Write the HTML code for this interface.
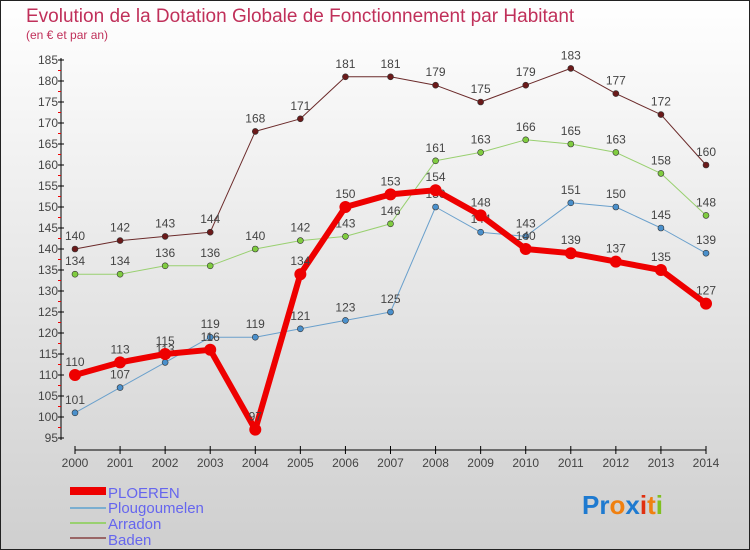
<!DOCTYPE html>
<html><head><meta charset="utf-8"><style>
body{margin:0}
svg{display:block;font-family:"Liberation Sans",sans-serif}
</style></head><body>
<svg id="c" width="750" height="550">
<defs><linearGradient id="bg" x1="0" y1="0" x2="0" y2="1"><stop offset="0" stop-color="#ffffff"/><stop offset="1" stop-color="#cfcfcf"/></linearGradient></defs>
<rect x="0.5" y="0.5" width="749" height="549" fill="url(#bg)" stroke="#222"/>
<text x="26" y="22" font-size="19" fill="#c0305a">Evolution de la Dotation Globale de Fonctionnement par Habitant</text>
<text x="26" y="39" font-size="12" fill="#c0305a">(en € et par an)</text>
<g id="axes"></g><g id="series"></g>
<g>
<rect x="70" y="487" width="36" height="8" fill="#e00"/>
<rect x="70" y="507" width="36" height="2" fill="#7aaed0"/>
<rect x="70" y="522" width="36" height="2" fill="#99d070"/>
<rect x="70" y="537" width="36" height="2" fill="#996666"/>
<text x="108" y="498" font-size="15" fill="#6666ee">PLOEREN</text>
<text x="108" y="513" font-size="15" fill="#6666ee">Plougoumelen</text>
<text x="108" y="529" font-size="15" fill="#6666ee">Arradon</text>
<text x="108" y="545" font-size="15" fill="#6666ee">Baden</text>
</g>
<g font-size="26" font-weight="bold">
<text x="582" y="514"><tspan fill="#1e7ad0">Pr</tspan><tspan fill="#f08010">o</tspan><tspan fill="#1e7ad0">x</tspan><tspan fill="#e03010">i</tspan><tspan fill="#f08010">t</tspan><tspan fill="#80c020">i</tspan></text>
</g>
</svg>
<script>
const years=[2000,2001,2002,2003,2004,2005,2006,2007,2008,2009,2010,2011,2012,2013,2014];
const ploeren=[110,113,115,116,97,134,150,153,154,148,140,139,137,135,127];
const plougoumelen=[101,107,113,119,119,121,123,125,150,144,143,151,150,145,139];
const arradon=[134,134,136,136,140,142,143,146,161,163,166,165,163,158,148];
const baden=[140,142,143,144,168,171,181,181,179,175,179,183,177,172,160];
const yTicks=[95,100,105,110,115,120,125,130,135,140,145,150,155,160,165,170,175,180,185];
const NS='http://www.w3.org/2000/svg';
const x=i=>75+i*(706-75)/14;
const y=v=>60+(185-v)*4.2;
function mk(t,a,p){const e=document.createElementNS(NS,t);for(const k in a)e.setAttribute(k,a[k]);p.appendChild(e);return e;}
const ax=document.getElementById('axes'),sg=document.getElementById('series');
let l=mk('line',{x1:61,y1:58,x2:61,y2:440,stroke:'#000'},ax);


l=mk('line',{x1:75,y1:450,x2:706,y2:450,stroke:'#000'},ax);


yTicks.forEach(v=>{
 mk('line',{x1:58,y1:y(v),x2:64,y2:y(v),stroke:'#000'},ax);
 if(v<185)mk('line',{x1:58,y1:y(v+2.5),x2:61,y2:y(v+2.5),stroke:'#e00'},ax);
 const t=mk('text',{x:58,y:y(v)+4,'font-size':12,fill:'#444','text-anchor':'end'},ax);t.textContent=v;
 
 
});
years.forEach((yr,i)=>{
 mk('line',{x1:x(i),y1:446,x2:x(i),y2:454,stroke:'#000'},ax);
 const t=mk('text',{x:x(i),y:467,'font-size':12,fill:'#444','text-anchor':'middle'},ax);t.textContent=yr;
 
 
});
function series(d,name,col,dot,w,r){
 const g=mk('g',{},sg);
 
 
 mk('polyline',{points:d.map((v,i)=>x(i)+','+y(v)).join(' '),fill:'none',stroke:col,'stroke-width':w,'stroke-linejoin':'round'},g);
 d.forEach((v,i)=>{
  const c=mk('circle',{cx:x(i),cy:y(v),r:r,fill:dot,stroke:'#333','stroke-width':r>4?0:0.6},g);
  
  
  const t=mk('text',{x:x(i),y:y(v)-9,'font-size':12,fill:'#444','text-anchor':'middle'},g);t.textContent=v;
 });
}
series(baden,'baden','#6b2a2a','#6b1a1a',1,3);
series(arradon,'arradon','#99d070','#80cc40',1,3);
series(plougoumelen,'plougoumelen','#6aa0cc','#4a90cc',1,3);
series(ploeren,'ploeren','#e00','#e00',6,6);
</script>
</body></html>
